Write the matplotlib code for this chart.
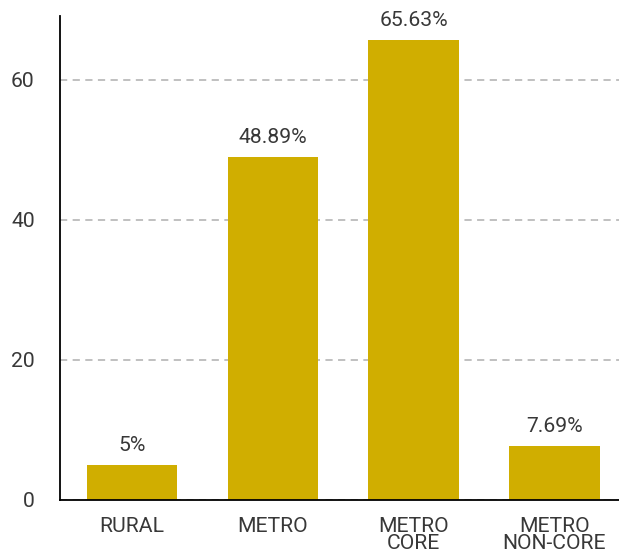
import matplotlib
matplotlib.use('Agg')
import matplotlib.pyplot as plt

plt.rcParams['font.family'] = ['Roboto', 'DejaVu Sans']

categories = ['RURAL', 'METRO', 'METRO\nCORE', 'METRO\nNON-CORE']
values = [5, 48.89, 65.63, 7.69]
labels = ['5%', '48.89%', '65.63%', '7.69%']

BAR = '#D0AE00'
TXT = '#383838'
FS = 15.2

fig = plt.figure(figsize=(6.19, 5.58), dpi=100)
ax = fig.add_axes([0.0977, 0.104, 0.9023, 0.8673])

x = range(len(categories))
bars = ax.bar(x, values, width=0.643, color=BAR, zorder=2)

# value labels above each bar
for b, lab in zip(bars, labels):
    ax.annotate(lab, (b.get_x() + b.get_width() / 2, b.get_height()),
                xytext=(0, 7.5), textcoords='offset points',
                ha='center', va='bottom', fontsize=FS, color=TXT)

ax.set_xlim(-0.508, 3.459)
ax.set_ylim(0, 69.06)
ax.set_yticks([0, 20, 40, 60])
ax.set_xticks(list(x))
ax.set_xticklabels(categories, fontsize=FS, color=TXT, linespacing=0.92)
ax.tick_params(axis='y', length=0, pad=18.5, labelsize=FS, labelcolor=TXT)
ax.tick_params(axis='x', length=0, pad=12)

ax.yaxis.grid(True, linestyle=(0, (4, 3)), color='#bbbbbb', linewidth=1.3, zorder=0)
ax.set_axisbelow(True)
for s in ['top', 'right']:
    ax.spines[s].set_visible(False)
for s in ['left', 'bottom']:
    ax.spines[s].set_linewidth(1.3)
    ax.spines[s].set_color('black')

fig.savefig('out.png', dpi=100)
